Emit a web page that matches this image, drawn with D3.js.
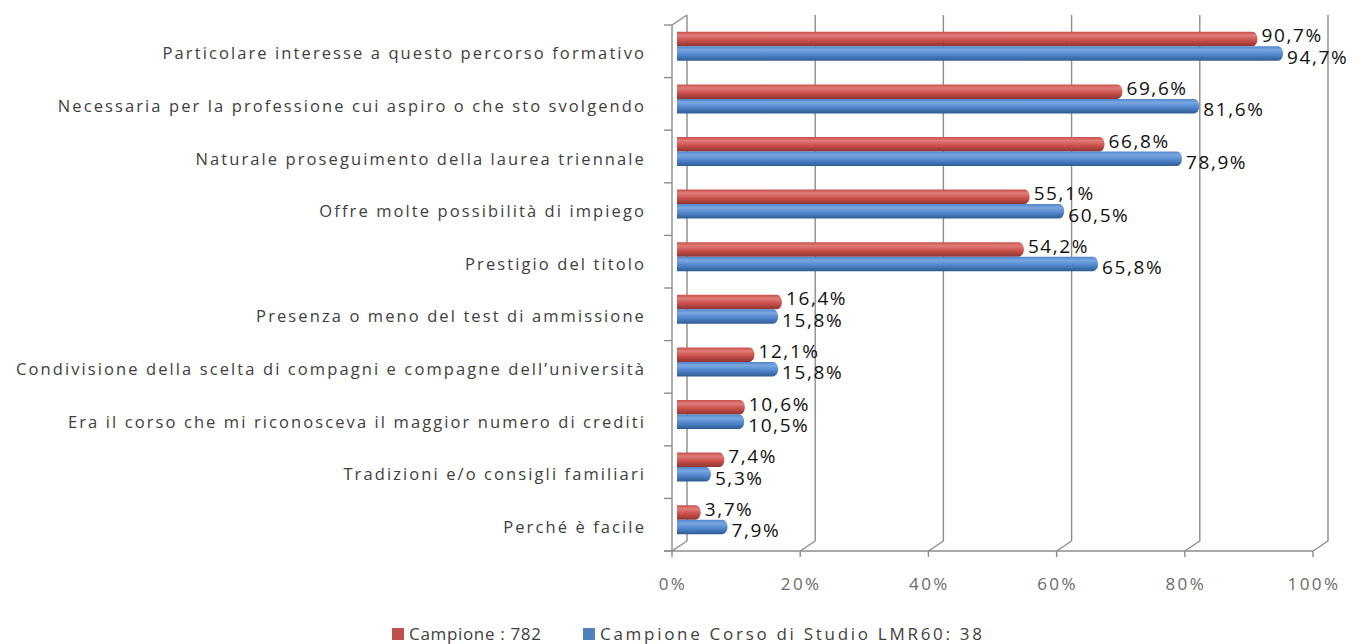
<!DOCTYPE html>
<html>
<head>
<meta charset="utf-8">
<script src="https://cdn.jsdelivr.net/npm/d3@7"></script>
<style>
  body { margin: 0; background: #fff; }
  svg { display: block; font-family: "Open Sans", sans-serif; }
  .cat { fill: #404040; font-size: 16.5px; letter-spacing: 2.1px; }
  .tick-lbl { fill: #6a6a6a; font-size: 17px; letter-spacing: 2.4px; }
  .val { fill: #111; font-size: 19px; letter-spacing: 1.6px; }
  .leg { fill: #404040; font-size: 17px; }
  .grid { stroke: #8c8c8c; stroke-width: 1.4; fill: none; }
</style>
</head>
<body>
<svg id="chart"></svg>
<script>
// Dati del grafico
const categories = [
    'Particolare interesse a questo percorso formativo',
    'Necessaria per la professione cui aspiro o che sto svolgendo',
    'Naturale proseguimento della laurea triennale',
    'Offre molte possibilità di impiego',
    'Prestigio del titolo',
    'Presenza o meno del test di ammissione',
    'Condivisione della scelta di compagni e compagne dell’università',
    'Era il corso che mi riconosceva il maggior numero di crediti',
    'Tradizioni e/o consigli familiari',
    'Perché è facile'
];
const campione = [90.7, 69.6, 66.8, 55.1, 54.2, 16.4, 12.1, 10.6, 7.4, 3.7];
const campioneLMR60 = [94.7, 81.6, 78.9, 60.5, 65.8, 15.8, 15.8, 10.5, 5.3, 7.9];
const tickValues = [0, 20, 40, 60, 80, 100];
const seriesNames = ['Campione : 782', 'Campione Corso di Studio LMR60: 38'];

const width = 1357, height = 644;
const svg = d3.select('#chart').attr('width', width).attr('height', height);

// profondità 3D (offset della parete di fondo)
const depthX = 15, depthY = -10;

const x = d3.scaleLinear().domain([0, 100]).range([672, 1313]);
const y = d3.scaleBand().domain(categories).range([25, 551]);

// Gradienti per i cilindri
const defs = svg.append('defs');
function gradient(id, light, mid, dark) {
    const g = defs.append('linearGradient').attr('id', id)
        .attr('x1', 0).attr('y1', 0).attr('x2', 0).attr('y2', 1);
    g.append('stop').attr('offset', '0%').attr('stop-color', mid);
    g.append('stop').attr('offset', '25%').attr('stop-color', light);
    g.append('stop').attr('offset', '60%').attr('stop-color', mid);
    g.append('stop').attr('offset', '100%').attr('stop-color', dark);
}
gradient('gRed', '#e07c79', '#c94f4b', '#8e3431');
gradient('gBlue', '#7aa6e0', '#4f86cc', '#2f5b92');

// Parete e griglia
const grid = svg.append('g');
tickValues.forEach(t => {
    const xf = x(t);
    // linea verticale sulla parete di fondo + diagonale sul pavimento
    grid.append('path').attr('class', 'grid')
        .attr('d', `M${xf},551 L${xf + depthX},${551 + depthY} L${xf + depthX},${25 + depthY}`);
    // tacca sotto l'asse
    grid.append('line').attr('class', 'grid')
        .attr('x1', xf).attr('x2', xf).attr('y1', 551).attr('y2', 557);
});
// asse frontale del pavimento
grid.append('line').attr('class', 'grid')
    .attr('x1', x(0) - 8).attr('x2', x(100)).attr('y1', 551).attr('y2', 551);
// parete sinistra
grid.append('path').attr('class', 'grid')
    .attr('d', `M${x(0)},551 L${x(0)},25 L${x(0) + depthX},${25 + depthY}`);
// tacche categorie
d3.range(categories.length + 1).forEach(i => {
    const yy = 25 + i * y.step();
    grid.append('line').attr('class', 'grid')
        .attr('x1', x(0) - 8).attr('x2', x(0)).attr('y1', yy).attr('y2', yy);
});

// Etichette asse x
svg.append('g').selectAll('text').data(tickValues).join('text')
    .attr('class', 'tick-lbl')
    .attr('x', d => x(d) + 1)
    .attr('y', 590)
    .attr('text-anchor', 'middle')
    .text(d => d + '%');

// Etichette categorie
svg.append('g').selectAll('text').data(categories).join('text')
    .attr('class', 'cat')
    .attr('x', 646)
    .attr('y', d => y(d) + y.bandwidth() / 2 + 8)
    .attr('text-anchor', 'end')
    .text(d => d);

// Barre cilindriche
const barH = 14.5, capR = 5;
const bx = x.copy().range([677, 1317]);
function cylinder(v, top) {
    const x0 = bx(0), x1 = bx(v);
    const h = barH;
    return `M${x0},${top} L${x1 - capR},${top} A${capR},${h / 2} 0 0 1 ${x1 - capR},${top + h} L${x0},${top + h} Z`;
}
const series = [
    { name: seriesNames[0], values: campione, fill: 'url(#gRed)', color: '#c0504d', off: -barH - 5, dy: 10.5 },
    { name: seriesNames[1], values: campioneLMR60, fill: 'url(#gBlue)', color: '#4f81bd', off: -5, dy: 17.5 }
];
const bars = svg.append('g');
series.forEach(s => {
    const g = bars.append('g');
    g.selectAll('path').data(categories).join('path')
        .attr('d', (c, i) => cylinder(s.values[i], y(c) + y.bandwidth() / 2 + s.off))
        .attr('fill', s.fill);
    g.selectAll('text').data(categories).join('text')
        .attr('class', 'val')
        .attr('x', (c, i) => bx(s.values[i]) + 4)
        .attr('y', (c, i) => y(c) + y.bandwidth() / 2 + s.off + s.dy)
        .text((c, i) => d3.format('.1f')(s.values[i]).replace('.', ',') + '%');
});

// Legenda
const legend = svg.append('g');
const legX = [392, 583];
const legW = [132, 382];
series.forEach((s, i) => {
    legend.append('rect').attr('x', legX[i]).attr('y', 628)
        .attr('width', 12).attr('height', 12).attr('fill', s.color);
    legend.append('text').attr('class', 'leg')
        .attr('x', legX[i] + 17).attr('y', 640)
        .attr('textLength', legW[i]).attr('lengthAdjust', 'spacing')
        .text(s.name);
});
</script>
</body>
</html>
